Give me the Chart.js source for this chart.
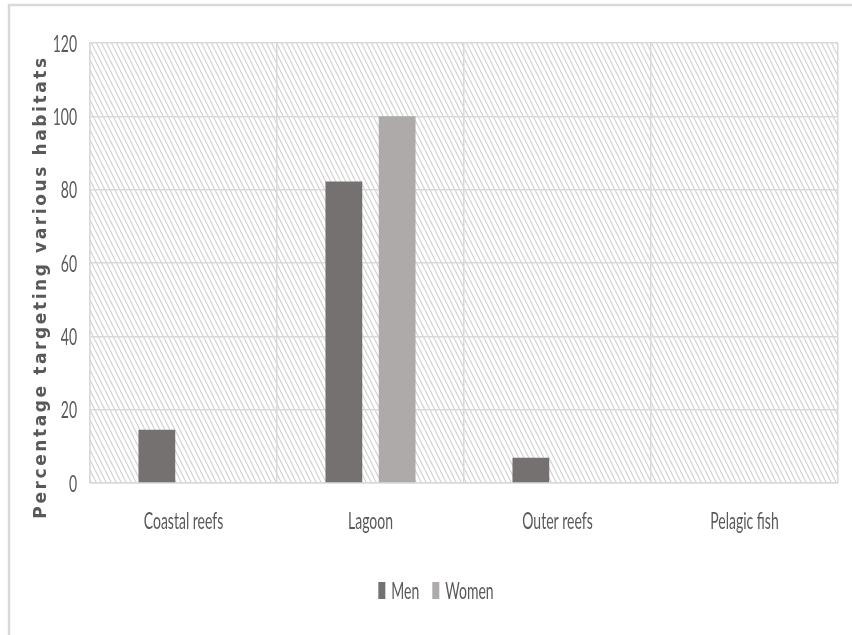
<!DOCTYPE html>
<html>
<head>
<meta charset="utf-8">
<script src="https://cdn.jsdelivr.net/npm/chart.js@4.4.1/dist/chart.umd.min.js"></script>
<style>
  html, body { margin: 0; padding: 0; background: #ffffff; }
  canvas { display: block; }
</style>
</head>
<body>
<canvas id="chart" width="852" height="635"></canvas>
<script>
// Habitats fished, share of fishers by gender (%)
const categories = ['Coastal reefs', 'Lagoon', 'Outer reefs', 'Pelagic fish'];
const menValues = [14.5, 82.2, 6.9, 0];
const womenValues = [0, 100, 0, 0];
const yTicks = [0, 20, 40, 60, 80, 100, 120];
const seriesNames = ['Men', 'Women'];
const seriesColors = ['#767171', '#AEAAAA'];
const yAxisTitle = 'Percentage targeting various habitats';

const TEXT_COLOR = '#595959';
const GRID_COLOR = '#d9d9d9';
const LABEL_FONT = '14px Lato, "Liberation Sans", sans-serif';
const STRETCH = 1.7; // tall, narrow lettering of the axis and legend labels

function tallText(ctx, text, x, y, align) {
  ctx.save();
  ctx.translate(x, y);
  ctx.scale(1, STRETCH);
  ctx.font = LABEL_FONT;
  ctx.fillStyle = TEXT_COLOR;
  ctx.textAlign = align;
  ctx.textBaseline = 'alphabetic';
  ctx.fillText(text, 0, 0);
  ctx.restore();
}

function hatchPattern(ctx) {
  const tile = document.createElement('canvas');
  tile.width = 5;
  tile.height = 10;
  const t = tile.getContext('2d');
  t.strokeStyle = '#d6d6d6';
  t.lineWidth = 1.3;
  for (const dx of [-5, 0, 5]) {
    t.beginPath();
    t.moveTo(dx, 0);
    t.lineTo(dx + 5, 10);
    t.stroke();
  }
  return ctx.createPattern(tile, 'repeat');
}

const decorPlugin = {
  id: 'decor',
  beforeDraw(chart) {
    const ctx = chart.ctx;
    const a = chart.chartArea;
    ctx.save();
    ctx.fillStyle = '#ffffff';
    ctx.fillRect(0, 0, chart.width, chart.height);
    // outer frame (top and left edges)
    ctx.strokeStyle = '#d9d9d9';
    ctx.lineWidth = 2.5;
    ctx.beginPath();
    ctx.moveTo(9, chart.height);
    ctx.lineTo(9, 5);
    ctx.lineTo(chart.width, 5);
    ctx.stroke();
    // hatched plot background
    ctx.fillStyle = hatchPattern(ctx);
    ctx.fillRect(a.left, a.top, a.right - a.left, a.bottom - a.top);
    ctx.restore();
  },
  afterDraw(chart) {
    const ctx = chart.ctx;
    const xs = chart.scales.x;
    const ys = chart.scales.y;

    // value axis labels
    yTicks.forEach(v => {
      tallText(ctx, String(v), 77, ys.getPixelForValue(v) + 8.5, 'right');
    });

    // category labels
    categories.forEach((c, i) => {
      tallText(ctx, c, xs.getPixelForValue(i), 529, 'center');
    });

    // legend
    ctx.save();
    ctx.font = LABEL_FONT;
    const boxW = 7, gapBox = 6, gapItem = 13;
    const widths = seriesNames.map(n => ctx.measureText(n).width);
    let total = 0;
    widths.forEach((w, i) => { total += boxW + gapBox + w + (i ? gapItem : 0); });
    let x = 436 - total / 2;
    seriesNames.forEach((n, i) => {
      if (i) x += gapItem;
      ctx.fillStyle = seriesColors[i];
      ctx.fillRect(x, 582, boxW, 17);
      x += boxW + gapBox;
      tallText(ctx, n, x, 599, 'left');
      x += widths[i];
    });
    ctx.restore();

    // value axis title
    ctx.save();
    ctx.translate(46, 287);
    ctx.rotate(-Math.PI / 2);
    ctx.font = 'bold 17px "DejaVu Sans", Verdana, sans-serif';
    if ('letterSpacing' in ctx) ctx.letterSpacing = '2.6px';
    ctx.fillStyle = TEXT_COLOR;
    ctx.textAlign = 'center';
    ctx.textBaseline = 'alphabetic';
    ctx.fillText(yAxisTitle, 0, 0);
    ctx.restore();
  }
};

new Chart(document.getElementById('chart'), {
  type: 'bar',
  data: {
    labels: categories,
    datasets: [
      { label: seriesNames[0], data: menValues, backgroundColor: seriesColors[0],
        categoryPercentage: 0.57, barPercentage: 0.69 },
      { label: seriesNames[1], data: womenValues, backgroundColor: seriesColors[1],
        categoryPercentage: 0.57, barPercentage: 0.69 }
    ]
  },
  options: {
    responsive: false,
    devicePixelRatio: 1,
    animation: false,
    layout: { padding: { left: 90, top: 43, right: 14, bottom: 152 } },
    plugins: {
      legend: { display: false },
      tooltip: { enabled: false },
      title: { display: false }
    },
    scales: {
      x: {
        ticks: { display: false },
        grid: { color: GRID_COLOR, lineWidth: 1.5, drawTicks: false, offset: true },
        border: { color: GRID_COLOR, width: 1.5 }
      },
      y: {
        min: yTicks[0],
        max: yTicks[yTicks.length - 1],
        ticks: { display: false, stepSize: yTicks[1] - yTicks[0] },
        grid: { color: GRID_COLOR, lineWidth: 1.5, drawTicks: false },
        border: { color: GRID_COLOR, width: 1.5 }
      }
    }
  },
  plugins: [decorPlugin]
});
</script>
</body>
</html>
